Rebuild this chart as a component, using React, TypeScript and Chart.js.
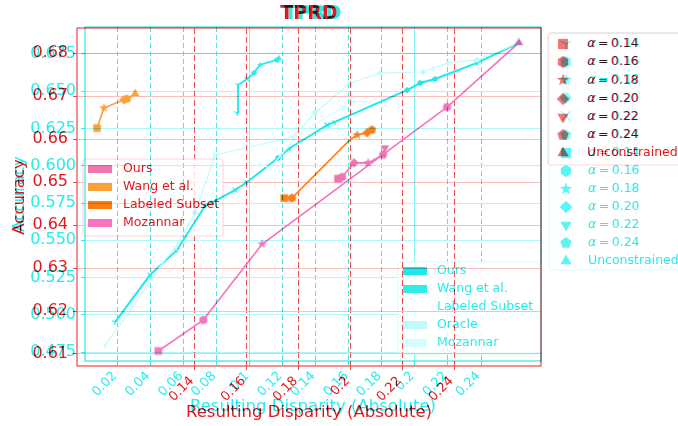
import React, { useEffect, useRef } from 'react';
import { Chart, registerables } from 'chart.js';

Chart.register(...registerables);

const FONT = '"DejaVu Sans", "Liberation Sans", sans-serif';

// ===================== Red panel (front) =====================
const redXTicks = [0.14, 0.16, 0.18, 0.2, 0.22, 0.24];
const redXTickLabels = ['0.14', '0.16', '0.18', '0.2', '0.22', '0.24'];
const redYTicks = [0.61, 0.62, 0.63, 0.64, 0.65, 0.66, 0.67, 0.68];
const redYTickLabels = ['0.61', '0.62', '0.63', '0.64', '0.65', '0.66', '0.67', '0.68'];

const redOursX = [0.1953, 0.1969, 0.2015, 0.2069, 0.2127, 0.2134];
const redOursY = [0.6508, 0.6512, 0.6545, 0.6545, 0.6564, 0.658];
const redWangX = [0.1025, 0.1052, 0.1129, 0.1141, 0.1172];
const redWangY = [0.6626, 0.6673, 0.6692, 0.6694, 0.6706];
const redSubsetX = [0.1746, 0.1776, 0.2, 0.2027, 0.2065, 0.2084];
const redSubsetY = [0.6463, 0.6463, 0.6599, 0.661, 0.6615, 0.6622];
const redMozannarX = [0.1261, 0.1434, 0.1661, 0.2373, 0.265];
const redMozannarY = [0.6107, 0.6179, 0.6356, 0.6675, 0.6825];

const redLineLegend = ['Ours', 'Wang et al.', 'Labeled Subset', 'Mozannar'];
const alphaValues = ['0.14', '0.16', '0.18', '0.20', '0.22', '0.24'];
const unconstrainedLabel = 'Unconstrained';

// ===================== Cyan panel (back) =====================
const cyanXTicks = [0.02, 0.04, 0.06, 0.08, 0.1, 0.12, 0.14, 0.16, 0.18, 0.2, 0.22, 0.24];
const cyanXTickLabels = ['0.02', '0.04', '0.06', '0.08', '0.1', '0.12', '0.14', '0.16', '0.18', '0.2', '0.22', '0.24'];
const cyanYTicks = [0.475, 0.5, 0.525, 0.55, 0.575, 0.6, 0.625, 0.65, 0.675];
const cyanYTickLabels = ['0.475', '0.500', '0.525', '0.550', '0.575', '0.600', '0.625', '0.650', '0.675'];

const cyanOursX = [0.0185, 0.0397, 0.056, 0.0729, 0.0778, 0.0911, 0.0984, 0.1171, 0.1244, 0.1468, 0.1516, 0.1952, 0.2031, 0.2122, 0.2376, 0.263];
const cyanOursY = [0.4951, 0.5267, 0.5435, 0.573, 0.5757, 0.5837, 0.5891, 0.6052, 0.6119, 0.6273, 0.6294, 0.6508, 0.6555, 0.6582, 0.669, 0.6824];
const cyanWangX = [0.0923, 0.0929, 0.0984, 0.1026, 0.1062, 0.1165, 0.1177];
const cyanWangY = [0.6354, 0.6542, 0.6582, 0.6623, 0.6677, 0.671, 0.6723];
const cyanOracleX = [0.0124, 0.0288, 0.0475, 0.0548, 0.0669, 0.079, 0.1262, 0.1395, 0.1607, 0.1789, 0.2049, 0.22, 0.2376, 0.263];
const cyanOracleY = [0.4797, 0.5045, 0.5354, 0.5448, 0.5683, 0.6072, 0.6193, 0.6354, 0.6555, 0.6622, 0.6629, 0.669, 0.671, 0.6824];
const cyanMozannarX = [0.1062, 0.1123, 0.1304, 0.1559, 0.1625, 0.1698];
const cyanMozannarY = [0.6011, 0.5985, 0.622, 0.6388, 0.6428, 0.6428];

const cyanLineLegend = ['Ours', 'Wang et al.', 'Labeled Subset', 'Oracle', 'Mozannar'];

// ===================== styles =====================
const RED_TEXT = 'rgb(226,24,30)';
const RED_FRAME = 'rgb(235,70,70)';
const RED_VGRID = 'rgb(236,80,80)';
const RED_HGRID = 'rgb(250,190,190)';
const PINK = 'rgb(240,116,176)';
const PINK2 = 'rgb(248,116,190)';
const LORANGE = 'rgb(250,160,55)';
const ORANGE = 'rgb(250,126,22)';
const SALMON = 'rgb(244,118,118)';

const CYAN_TEXT = 'rgb(40,236,236)';
const CYAN_FRAME = 'rgb(50,230,230)';
const CYAN_VGRID = 'rgb(70,232,232)';
const CYAN_SOLID = 'rgb(130,242,242)';
const CYAN_HGRID = 'rgb(175,248,248)';
const CYAN = 'rgb(30,232,232)';
const CYAN2 = 'rgb(50,234,234)';
const LCYAN = 'rgb(192,251,251)';
const LLCYAN = 'rgb(214,253,253)';
const CYAN_MARK = 'rgb(95,244,244)';
const GRAYCYAN = 'rgb(128,255,255)';

type Shape = 'square' | 'hexagon' | 'star' | 'diamond' | 'triDown' | 'pentagon' | 'triUp' | 'circle' | 'tri1' | 'x' | 'none';

function makeMarker(shape: Shape, r: number, fill: string): HTMLCanvasElement {
  const size = Math.ceil(r * 2 + 4);
  const c = document.createElement('canvas');
  c.width = size;
  c.height = size;
  const g = c.getContext('2d')!;
  const cx = size / 2;
  const cy = size / 2;
  g.fillStyle = fill;
  g.strokeStyle = fill;
  g.lineWidth = 1;
  const up = -Math.PI / 2;
  const poly = (n: number, rad: number, start: number) => {
    g.beginPath();
    for (let i = 0; i < n; i++) {
      const a = start + (i * 2 * Math.PI) / n;
      const px = cx + rad * Math.cos(a);
      const py = cy + rad * Math.sin(a);
      if (i) g.lineTo(px, py);
      else g.moveTo(px, py);
    }
    g.closePath();
    g.fill();
  };
  switch (shape) {
    case 'square':
      g.fillRect(cx - r * 0.85, cy - r * 0.85, r * 1.7, r * 1.7);
      break;
    case 'hexagon':
      poly(6, r, up);
      break;
    case 'pentagon':
      poly(5, r, up);
      break;
    case 'triUp':
      poly(3, r * 1.1, up);
      break;
    case 'triDown':
      poly(3, r * 1.1, Math.PI / 2);
      break;
    case 'diamond':
      poly(4, r * 1.05, up);
      break;
    case 'circle':
      g.beginPath();
      g.arc(cx, cy, r * 0.9, 0, Math.PI * 2);
      g.fill();
      break;
    case 'star': {
      g.beginPath();
      for (let i = 0; i < 10; i++) {
        const a = up + (i * Math.PI) / 5;
        const rad = i % 2 ? r * 0.45 : r * 1.1;
        const px = cx + rad * Math.cos(a);
        const py = cy + rad * Math.sin(a);
        if (i) g.lineTo(px, py);
        else g.moveTo(px, py);
      }
      g.closePath();
      g.fill();
      break;
    }
    case 'tri1': {
      g.lineWidth = 1.2;
      g.beginPath();
      [Math.PI / 2, (7 * Math.PI) / 6, (11 * Math.PI) / 6].forEach((a) => {
        g.moveTo(cx, cy);
        g.lineTo(cx + r * Math.cos(a), cy + r * Math.sin(a));
      });
      g.stroke();
      break;
    }
    case 'x':
      g.lineWidth = 1.2;
      g.beginPath();
      g.moveTo(cx - r * 0.8, cy - r * 0.8);
      g.lineTo(cx + r * 0.8, cy + r * 0.8);
      g.moveTo(cx + r * 0.8, cy - r * 0.8);
      g.lineTo(cx - r * 0.8, cy + r * 0.8);
      g.stroke();
      break;
    default:
      break;
  }
  return c;
}

const alphaShapes: Shape[] = ['square', 'hexagon', 'star', 'diamond', 'triDown', 'pentagon'];

const redOursShapes: Shape[] = ['square', 'hexagon', 'diamond', 'star', 'pentagon', 'triDown'];
const redWangShapes: Shape[] = ['square', 'star', 'diamond', 'pentagon', 'triUp'];
const redSubsetShapes: Shape[] = ['square', 'hexagon', 'none', 'star', 'diamond', 'pentagon'];
const redMozannarShapes: Shape[] = ['square', 'hexagon', 'star', 'circle', 'triUp'];

const cyanOursShapes: Shape[] = ['tri1', 'x', 'tri1', 'star', 'tri1', 'x', 'tri1', 'hexagon', 'tri1', 'x', 'tri1', 'diamond', 'hexagon', 'pentagon', 'triDown', 'triUp'];
const cyanWangShapes: Shape[] = ['tri1', 'tri1', 'x', 'diamond', 'star', 'pentagon', 'triUp'];
const cyanOracleShapes: Shape[] = ['tri1', 'x', 'tri1', 'x', 'hexagon', 'x', 'tri1', 'square', 'hexagon', 'star', 'diamond', 'triDown', 'pentagon', 'triUp'];
const cyanMozannarShapes: Shape[] = ['x', 'tri1', 'x', 'square', 'x', 'tri1'];

function series(label: string, xs: number[], ys: number[], shapes: Shape[], color: string, r: number, width: number) {
  return {
    label,
    data: xs.map((x, i) => ({ x, y: ys[i] })),
    showLine: true,
    borderColor: color,
    backgroundColor: color,
    borderWidth: width,
    pointStyle: shapes.map((s) => makeMarker(s, r, color)),
    pointRadius: r,
    tension: 0,
  };
}

type LegendEntry = { label: string; alpha?: boolean; swatch?: string; marker?: HTMLCanvasElement };
type LegendSpec = {
  x: number; y: number; w: number; h: number;
  rowY: number; rowH: number; keyX: number; textX: number;
  entries: LegendEntry[]; textColor: string; edge: string; fontSize: number;
};

function boxLegend(id: string, spec: LegendSpec) {
  return {
    id,
    afterDraw(chart: any) {
      const ctx: CanvasRenderingContext2D = chart.ctx;
      ctx.save();
      const { x, y, w, h } = spec;
      const rr = 3;
      ctx.beginPath();
      ctx.moveTo(x + rr, y);
      ctx.lineTo(x + w - rr, y);
      ctx.arcTo(x + w, y, x + w, y + rr, rr);
      ctx.lineTo(x + w, y + h - rr);
      ctx.arcTo(x + w, y + h, x + w - rr, y + h, rr);
      ctx.lineTo(x + rr, y + h);
      ctx.arcTo(x, y + h, x, y + h - rr, rr);
      ctx.lineTo(x, y + rr);
      ctx.arcTo(x, y, x + rr, y, rr);
      ctx.closePath();
      ctx.fillStyle = 'rgba(255,255,255,0.8)';
      ctx.fill();
      ctx.strokeStyle = spec.edge;
      ctx.lineWidth = 1;
      ctx.stroke();
      ctx.textBaseline = 'middle';
      ctx.fillStyle = spec.textColor;
      spec.entries.forEach((e, i) => {
        const cy = spec.rowY + i * spec.rowH;
        if (e.swatch) {
          ctx.fillStyle = e.swatch;
          ctx.fillRect(spec.keyX, cy - 4, 24, 8);
        }
        if (e.marker) {
          ctx.drawImage(e.marker, Math.round(spec.keyX - e.marker.width / 2), Math.round(cy - e.marker.height / 2));
        }
        ctx.fillStyle = spec.textColor;
        if (e.alpha) {
          ctx.font = `italic ${spec.fontSize}px ${FONT}`;
          ctx.fillText('α', spec.textX, cy);
          const aw = ctx.measureText('α').width;
          ctx.font = `${spec.fontSize}px ${FONT}`;
          ctx.fillText('\u2009=\u20090.' + e.label.split('.')[1], spec.textX + aw, cy);
        } else {
          ctx.font = `${spec.fontSize}px ${FONT}`;
          ctx.fillText(e.label, spec.textX, cy);
        }
      });
      ctx.restore();
    },
  };
}

function framePlugin(color: string) {
  return {
    id: 'frame',
    afterDatasetsDraw(chart: any) {
      const { ctx, chartArea: a } = chart;
      ctx.save();
      ctx.strokeStyle = color;
      ctx.lineWidth = 1.2;
      ctx.strokeRect(a.left, a.top, a.right - a.left, a.bottom - a.top);
      ctx.restore();
    },
  };
}

type AxisSpec = {
  min: number; max: number; ticks: number[]; labels: string[];
  size: number; color: string; fontSize: number; title: string; titlePad: number;
  gridColor: any; dash: any; tickColor: string;
};

function xAxis(s: AxisSpec) {
  return {
    type: 'linear',
    min: s.min,
    max: s.max,
    afterBuildTicks: (scale: any) => {
      scale.ticks = s.ticks.map((v) => ({ value: v }));
    },
    afterFit: (scale: any) => {
      scale.height = s.size;
    },
    ticks: {
      autoSkip: false,
      minRotation: 45,
      maxRotation: 45,
      padding: 3.5,
      labelOffset: -2.5,
      color: s.color,
      font: { family: FONT, size: s.fontSize },
      callback: (_v: any, i: number) => s.labels[i],
    },
    grid: { color: s.gridColor, lineWidth: 1, drawTicks: true, tickLength: 4, tickColor: s.tickColor, tickBorderDash: [] },
    border: { display: false, dash: s.dash },
    title: { display: true, text: s.title, color: s.color, font: { family: FONT, size: 16.5 }, padding: { top: 0, bottom: s.titlePad } },
  };
}

function yAxis(s: AxisSpec) {
  return {
    type: 'linear',
    min: s.min,
    max: s.max,
    afterBuildTicks: (scale: any) => {
      scale.ticks = s.ticks.map((v) => ({ value: v }));
    },
    afterFit: (scale: any) => {
      scale.width = s.size;
    },
    ticks: {
      autoSkip: false,
      padding: 5,
      color: s.color,
      font: { family: FONT, size: 16 },
      callback: (_v: any, i: number) => s.labels[i],
    },
    grid: { color: s.gridColor, lineWidth: 1, drawTicks: true, tickLength: 4, tickColor: s.tickColor },
    border: { display: false, dash: s.dash },
    title: { display: true, text: s.title, color: s.color, font: { family: FONT, size: 16.5 }, padding: { top: s.titlePad, bottom: 0 } },
  };
}

function buildRed(canvas: HTMLCanvasElement) {
  const lineLegendColors = [PINK, LORANGE, ORANGE, PINK2];
  return new Chart(canvas, {
    type: 'scatter',
    data: {
      datasets: [
        series('Mozannar', redMozannarX, redMozannarY, redMozannarShapes, PINK2, 4.5, 1.6),
        series('Ours', redOursX, redOursY, redOursShapes, PINK, 4.5, 1.6),
        series('Labeled Subset', redSubsetX, redSubsetY, redSubsetShapes, ORANGE, 4.5, 1.6),
        series('Wang et al.', redWangX, redWangY, redWangShapes, LORANGE, 4.5, 1.6),
      ] as any,
    },
    options: {
      responsive: false,
      animation: false,
      devicePixelRatio: 1,
      events: [],
      layout: { padding: { left: 0, right: 137, top: 0, bottom: 0 } },
      plugins: {
        legend: { display: false },
        tooltip: { enabled: false },
        title: {
          display: true,
          text: 'TPRD',
          color: RED_TEXT,
          fullSize: false,
          font: { family: FONT, size: 19, weight: 'bold' },
          padding: { top: 3.1, bottom: 2.1 },
        },
      },
      scales: {
        x: xAxis({
          min: 0.0948, max: 0.2735, ticks: redXTicks, labels: redXTickLabels, size: 60,
          color: RED_TEXT, fontSize: 13, title: 'Resulting Disparity (Absolute)', titlePad: 3.8,
          gridColor: RED_VGRID, dash: [6, 3], tickColor: RED_VGRID,
        }),
        y: yAxis({
          min: 0.6072, max: 0.6859, ticks: redYTicks, labels: redYTickLabels, size: 77,
          color: RED_TEXT, fontSize: 16, title: 'Accuracy', titlePad: 9.8,
          gridColor: RED_HGRID, dash: [], tickColor: RED_FRAME,
        }),
      } as any,
    },
    plugins: [
      framePlugin(RED_FRAME),
      boxLegend('redLines', {
        x: 83, y: 159, w: 140, h: 77, rowY: 169, rowH: 18, keyX: 88, textX: 123,
        entries: redLineLegend.map((l, i) => ({ label: l, swatch: lineLegendColors[i] })),
        textColor: RED_TEXT, edge: 'rgb(252,212,212)', fontSize: 12.5,
      }),
      boxLegend('redMarkers', {
        x: 548, y: 33, w: 140, h: 132, rowY: 44, rowH: 18.17, keyX: 563, textX: 587,
        entries: [
          ...alphaValues.map((a, i) => ({ label: a, alpha: true, marker: makeMarker(alphaShapes[i], 6, SALMON) })),
          { label: unconstrainedLabel, marker: makeMarker('triUp', 6, SALMON) },
        ],
        textColor: RED_TEXT, edge: 'rgb(252,212,212)', fontSize: 12.5,
      }),
    ],
  } as any);
}

function buildCyan(canvas: HTMLCanvasElement) {
  const lineLegendColors = [CYAN, CYAN2, 'rgb(255,255,255)', LCYAN, LLCYAN];
  const solidAt = (v: number) => Math.abs(v - 0.1) < 1e-6 || Math.abs(v - 0.2) < 1e-6;
  const cyanFirstShapes: Shape[] = ['tri1', 'hexagon', 'star', 'diamond', 'x', 'pentagon'];
  return new Chart(canvas, {
    type: 'scatter',
    data: {
      datasets: [
        series('Mozannar', cyanMozannarX, cyanMozannarY, cyanMozannarShapes, LLCYAN, 3, 1.2),
        series('Oracle', cyanOracleX, cyanOracleY, cyanOracleShapes, LCYAN, 3, 1.2),
        series('Ours', cyanOursX, cyanOursY, cyanOursShapes, CYAN, 3, 2),
        series('Wang et al.', cyanWangX, cyanWangY, cyanWangShapes, CYAN2, 3, 2),
      ] as any,
    },
    options: {
      responsive: false,
      animation: false,
      devicePixelRatio: 1,
      events: [],
      layout: { padding: { left: 0, right: 137, top: 0, bottom: 0 } },
      plugins: {
        legend: { display: false },
        tooltip: { enabled: false },
        title: {
          display: true,
          text: 'TPRD',
          color: CYAN_TEXT,
          fullSize: false,
          font: { family: FONT, size: 19, weight: 'bold' },
          padding: { top: 3.1, bottom: 1.1 },
        },
      },
      scales: {
        x: xAxis({
          min: 0.0003, max: 0.2763, ticks: cyanXTicks, labels: cyanXTickLabels, size: 65,
          color: CYAN_TEXT, fontSize: 13, title: 'Resulting Disparity (Absolute)', titlePad: 9.8,
          gridColor: (c: any) => (c.tick && solidAt(c.tick.value) ? CYAN_SOLID : CYAN_VGRID),
          dash: (c: any) => (c.tick && solidAt(c.tick.value) ? [] : [5, 3]),
          tickColor: CYAN_FRAME,
        }),
        y: yAxis({
          min: 0.469, max: 0.6931, ticks: cyanYTicks, labels: cyanYTickLabels, size: 85,
          color: CYAN_TEXT, fontSize: 16, title: 'Accuracy', titlePad: 9.8,
          gridColor: CYAN_HGRID, dash: [], tickColor: CYAN_FRAME,
        }),
      } as any,
    },
    plugins: [
      framePlugin(CYAN_FRAME),
      boxLegend('cyanLines', {
        x: 398, y: 262, w: 142, h: 92, rowY: 271, rowH: 18, keyX: 403, textX: 437,
        entries: cyanLineLegend.map((l, i) => ({ label: l, swatch: lineLegendColors[i] })),
        textColor: CYAN_TEXT, edge: 'rgb(215,252,252)', fontSize: 12.5,
      }),
      boxLegend('cyanMarkers', {
        x: 549, y: 33, w: 140, h: 237, rowY: 44, rowH: 18.1, keyX: 566, textX: 588,
        entries: [
          ...alphaValues.map((a, i) => ({ label: a, alpha: true, marker: makeMarker(cyanFirstShapes[i], 6, GRAYCYAN) })),
          ...alphaValues.map((a, i) => ({ label: a, alpha: true, marker: makeMarker(alphaShapes[i], 6, CYAN_MARK) })),
          { label: unconstrainedLabel, marker: makeMarker('triUp', 6, CYAN_MARK) },
        ],
        textColor: CYAN_TEXT, edge: 'rgb(215,252,252)', fontSize: 12.5,
      }),
    ],
  } as any);
}

export default function App() {
  const redRef = useRef<HTMLCanvasElement>(null);
  const cyanRef = useRef<HTMLCanvasElement>(null);

  useEffect(() => {
    const cyan = buildCyan(cyanRef.current!);
    const red = buildRed(redRef.current!);
    return () => {
      red.destroy();
      cyan.destroy();
    };
  }, []);

  const canvasStyle: React.CSSProperties = { position: 'absolute', left: 0, top: 0, width: 678, height: 426 };

  return (
    <div style={{ position: 'absolute', left: 0, top: 0, width: 678, height: 426, overflow: 'hidden', background: '#fff', isolation: 'isolate' }}>
      <canvas ref={cyanRef} width={678} height={426} style={canvasStyle} />
      <canvas ref={redRef} width={678} height={426} style={{ ...canvasStyle, mixBlendMode: 'multiply' }} />
    </div>
  );
}
